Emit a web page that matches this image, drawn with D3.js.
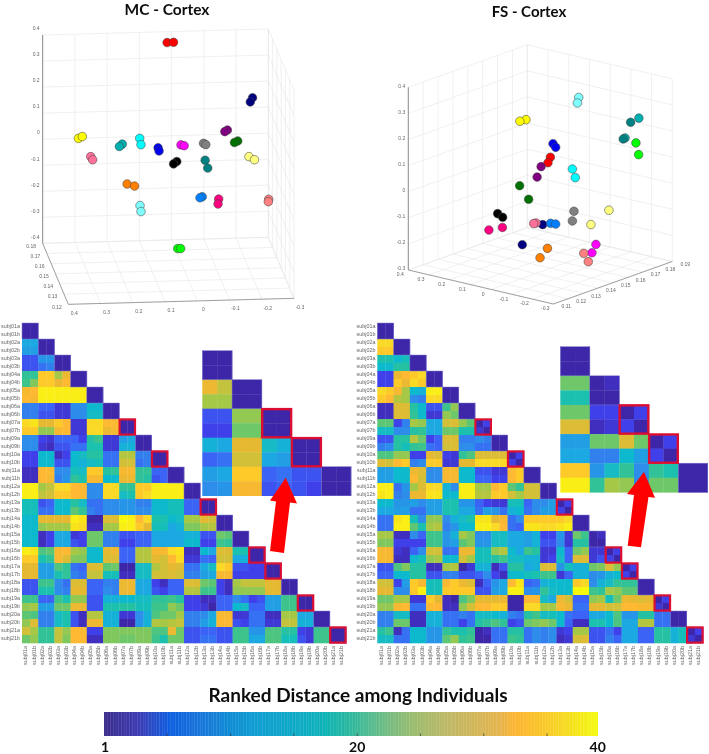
<!DOCTYPE html>
<html><head><meta charset="utf-8">
<script src="https://cdn.jsdelivr.net/npm/d3@7"></script>
<style>html,body{margin:0;padding:0;background:#fff}svg{display:block}</style>
</head><body><svg id="c" width="709" height="754"></svg>
<script>
const subjects=["01","02","03","04","05","06","07","09","10","11","12","13","14","15","16","17","18","19","20","21"];
const rowLabels=subjects.flatMap(s=>["subj"+s+"a","subj"+s+"b"]);
const subjectColors=["#ff0000","#000080","#800080","#007000","#ffff00","#ffff80","#ff7099","#00b0b0","#00ffff","#0000f0","#ff00ff","#808080","#000000","#008080","#ff8000","#80ffff","#0080ff","#ff0080","#ff8080","#00ff00"];
// MC - Cortex, two sessions per subject (same order as subjectColors)
const mcX=[[.014,-.006],[-.251,-.244],[-.173,-.165],[-.205,-.195],[.289,.277],[-.24,-.257],[.251,.245],[.153,.162],[.099,.095],[.042,.039],[-.029,-.039],[-.099,-.106],[-.016,-.006],[-.104,-.112],[.138,.115],[.098,.095],[-.095,-.088],[-.146,-.144],[-.301,-.3],[-.019,-.028]];
const mcZ=[[.371,.372],[.159,.143],[.035,.029],[-.007,-.013],[.003,.01],[-.067,-.079],[-.067,-.079],[-.019,-.028],[.003,-.021],[-.033,-.045],[-.022,-.025],[-.016,-.021],[-.086,-.095],[-.081,-.111],[-.172,-.18],[-.255,-.278],[-.221,-.225],[-.23,-.249],[-.231,-.24],[-.42,-.42]];
// FS - Cortex, view-plane position across the plot (0..1) and apparent height
const fsH=[[.536,.527],[.507,.43],[.501,.486],[.42,.454],[.444,.421],[.757,.689],[.482,.473],[.87,.818],[.619,.63],[.546,.556],[.708,.693],[.625,.619],[.337,.356],[.839,.811],[.525,.497],[.643,.638],[.537,.556],[.304,.355],[.662,.679],[.859,.869]];
const fsZ=[[.132,.111],[-.126,-.203],[.096,.056],[.023,-.029],[.276,.27],[-.071,-.126],[-.12,-.122],[.282,.206],[.087,.054],[.184,.17],[-.202,-.234],[-.075,-.112],[-.084,-.098],[.266,.202],[-.217,-.253],[.361,.34],[-.121,-.124],[-.147,-.137],[-.236,-.268],[.187,.142]];
const xTicks=[.4,.3,.2,.1,0,-.1,-.2,-.3];
const zTicksMC=[.4,.3,.2,.1,0,-.1,-.2,-.3,-.4];
const zTicksFS=[.4,.3,.2,.1,0,-.1,-.2,-.3];
const yTicksMC=[.18,.17,.16,.15,.14,.13,.12];
const yTicksFS=[.11,.12,.13,.14,.15,.16,.17,.18,.19];

const mcRows=[
[2,2],[2,2],
[13,13,2,2],[12,12,2,2],
[6,6,11,11,2,2],[6,6,8,9,2,2],
[20,20,36,36,27,33,2,2],[21,25,36,36,33,35,2,2],
[34,35,39,39,39,39,39,39,2,2],[35,34,39,39,39,39,39,39,2,2],
[9,9,7,7,4,4,10,10,15,15,2,2],[9,9,6,6,4,4,10,10,16,16,2,2],
[37,38,32,32,36,35,4,4,37,37,35,35,2,2],[36,36,26,26,34,35,4,4,37,37,33,34,2,2],
[10,10,5,4,7,7,7,5,19,21,4,4,12,13,2,2],[10,10,4,3,6,6,8,8,18,18,4,4,14,14,2,2],
[5,5,15,15,3,5,15,16,19,19,8,8,28,28,9,9,2,2],[5,5,15,15,6,6,15,14,16,17,8,8,30,30,8,9,2,2],
[3,3,35,35,10,10,17,16,36,36,19,20,34,34,20,20,7,7,2,2],[3,3,35,34,9,11,20,18,34,34,15,15,33,33,20,19,6,7,2,2],
[39,39,27,29,37,37,35,35,10,10,37,37,20,20,36,36,39,39,39,39,2,2],[39,39,29,30,36,36,35,35,10,10,37,37,16,18,36,37,39,39,39,39,2,2],
[17,17,6,7,15,15,19,16,8,8,10,10,11,11,9,9,15,15,17,17,7,7,2,2],[17,17,8,8,15,15,23,20,9,8,10,10,11,11,10,10,15,15,17,17,7,7,2,2],
[15,15,32,32,32,32,39,38,2,2,31,31,40,39,35,37,18,18,15,16,27,27,32,30,2,2],[15,15,26,27,27,27,38,37,3,3,27,27,39,39,36,32,17,17,13,14,25,25,27,28,2,2],
[15,15,3,5,13,13,4,5,24,24,9,9,6,6,7,7,13,13,13,13,14,14,6,6,24,23,2,2],[15,15,3,5,13,13,6,5,24,24,9,9,5,5,7,7,13,13,13,13,15,15,5,5,21,20,2,2],
[39,38,22,23,34,35,27,26,15,15,32,33,7,7,28,28,34,34,37,38,3,3,15,13,31,31,18,18,2,2],[36,36,18,20,34,31,25,25,15,15,31,31,7,7,28,28,32,30,35,37,4,4,8,7,30,30,13,14,2,2],
[32,32,12,12,22,20,8,7,31,31,23,24,2,2,16,16,28,30,32,31,8,8,13,16,37,36,6,6,5,5,2,2],[32,32,12,12,18,20,9,8,29,29,17,17,3,3,16,16,30,30,31,30,9,9,12,13,34,34,5,5,5,5,2,2],
[6,6,21,21,10,8,31,31,7,7,9,9,33,33,13,13,5,3,7,7,31,31,24,23,5,3,27,29,29,29,32,32,2,2],[6,6,18,18,10,9,32,32,7,7,10,9,33,33,13,13,6,5,7,7,28,28,21,21,5,3,26,26,26,26,32,32,2,2],
[21,21,7,7,21,18,26,26,6,6,14,14,15,15,16,16,20,20,21,19,5,5,3,3,7,7,10,8,5,6,12,12,21,21,2,2],[26,27,12,12,24,24,33,33,6,6,18,18,19,19,17,17,21,21,26,24,5,5,4,2,7,7,15,16,7,7,12,12,21,21,2,2],
[23,22,9,9,16,18,6,3,28,28,14,14,4,4,10,14,22,24,24,27,9,9,10,13,34,34,4,4,8,8,3,3,27,27,13,13,2,2],[26,31,9,9,16,18,6,3,33,33,14,14,2,2,11,14,28,27,28,29,9,9,12,14,35,35,6,5,8,8,4,4,29,29,14,14,2,2],
[30,27,20,20,29,26,35,35,5,5,25,25,25,25,25,25,22,22,33,24,6,6,7,7,6,6,21,21,11,11,22,22,19,19,5,4,21,21,2,2],[24,26,20,20,29,25,35,35,3,3,25,25,24,24,25,25,21,18,24,24,6,6,8,8,6,6,21,21,13,13,22,22,17,17,6,4,21,21,2,2]
];
const fsRows=[
[2,2],[2,2],
[37,37,2,2],[36,36,2,2],
[18,18,15,17,2,2],[15,15,19,19,2,2],
[5,5,33,35,36,37,2,2],[5,5,36,33,37,36,2,2],
[37,36,34,27,15,14,39,39,2,2],[36,35,28,27,10,9,37,37,2,2],
[3,3,31,31,19,15,6,6,21,26,2,2],[3,3,31,31,20,15,4,4,26,24,2,2],
[23,23,5,9,27,26,13,13,30,31,26,23,2,5],[16,16,10,10,19,20,13,13,24,24,18,18,4,2],
[6,6,19,19,28,24,5,7,31,31,9,9,10,9,2,2],[9,10,19,17,20,21,8,7,30,31,10,10,8,8,2,2],
[22,22,26,26,5,5,32,31,5,4,20,22,31,31,31,31,2,5],[31,30,35,36,9,10,36,36,4,4,32,32,37,37,37,37,5,2],
[12,12,15,15,33,31,10,10,34,34,15,15,6,6,4,4,35,36,2,2],[12,12,15,15,35,30,10,10,34,34,15,15,7,7,5,5,35,36,2,2],
[39,39,8,11,27,31,37,37,14,10,39,39,27,27,35,36,23,20,30,30,2,2],[38,39,9,10,33,33,38,38,15,15,39,39,28,28,36,36,30,27,30,30,2,2],
[15,15,11,11,12,10,12,12,18,18,11,11,7,5,4,4,17,17,7,10,10,12,2,5],[13,13,12,12,8,8,12,12,18,18,13,13,8,12,11,8,14,15,8,10,12,12,5,2],
[8,8,38,39,17,10,26,26,10,14,16,18,38,38,32,34,8,10,36,36,36,36,36,37,2,2],[8,8,39,39,23,18,27,28,9,11,15,15,39,39,37,35,8,7,38,38,37,37,38,39,2,2],
[27,27,3,3,10,7,21,21,11,14,27,25,10,10,16,16,13,13,12,14,5,5,11,4,24,21,2,3],[25,25,5,5,5,5,21,21,11,12,23,25,11,11,16,16,13,13,12,14,6,6,10,4,19,19,2,2],
[34,34,4,3,7,10,30,30,8,8,33,33,17,17,26,28,15,13,21,19,4,4,15,7,24,26,4,4,2,5],[34,34,3,3,15,17,26,27,15,15,30,27,17,17,19,21,16,16,14,14,4,5,16,7,31,31,4,6,5,2],
[6,6,22,25,19,19,3,3,27,28,2,4,14,14,3,6,19,19,13,14,31,31,11,17,14,14,24,25,31,26,2,5],[7,7,15,15,19,19,6,6,9,9,6,6,7,10,5,3,15,15,17,18,21,21,4,7,14,14,10,11,14,15,5,2],
[30,30,5,12,36,34,17,17,35,36,33,31,3,7,11,13,35,38,7,8,14,15,15,15,36,37,10,14,16,20,20,20,2,2],[32,32,10,10,36,39,17,17,36,36,36,36,6,6,12,13,39,39,10,11,20,16,15,15,40,40,21,20,27,26,23,23,2,2],
[24,24,27,27,4,4,36,32,3,2,22,25,32,32,32,33,2,2,35,35,16,13,33,30,7,7,26,27,17,24,33,32,31,32,2,5],[26,26,34,35,8,8,35,35,3,3,26,30,35,35,36,36,2,2,37,37,27,27,34,33,8,8,32,32,30,30,35,35,34,34,4,2],
[9,9,16,16,3,3,14,14,8,8,9,8,16,16,15,14,9,8,19,21,16,17,15,8,7,7,13,13,15,22,11,11,19,19,8,8,2,2],[9,9,24,24,3,3,14,14,8,8,5,8,19,20,22,20,5,6,24,25,26,24,15,7,3,3,18,18,15,22,13,13,28,28,8,8,2,2],
[19,21,3,8,15,15,11,11,20,18,18,20,2,3,8,8,19,19,8,10,9,10,4,5,27,27,6,6,8,5,13,13,7,7,19,19,14,17,2,5],[16,16,8,8,15,15,11,11,23,26,20,21,2,2,8,8,21,20,8,10,9,10,3,4,30,31,6,6,9,7,13,13,7,7,19,19,14,17,4,2]
];
const mcInsetRows=[
[2,2],[2,2],
[33,29,2,2],[27,27,2,2],
[6,6,26,26,2,2],[5,5,24,24,2,2],
[14,13,32,32,16,14,2,2],[7,8,30,30,13,12,2,2],
[12,13,36,36,7,8,6,6,2,2],[10,11,34,34,6,7,6,5,2,2]
];
const fsInsetRows=[
[2,2],[2,2],
[24,24,2,3],[18,18,2,2],
[24,24,5,5,2,5],[31,31,3,4,5,2],
[12,12,24,24,31,24,2,5],[13,13,9,9,15,12,5,2],
[36,36,11,16,20,10,20,18,2,2],[39,39,20,27,26,10,24,24,2,2]
];
const pairedSubjects=[6,8,11,14,15,17,19];
const insetPaired=[2,3];
const heatStops=[1,2,5,7,10,13,15,18,21,24,27,30,32,35,37,40];
const heatColors=["#3b23a0","#3e26a8","#4040eb","#3a64f5","#2d8ceb","#1ea8e1","#0fb9cd","#1ec0af","#3cc38c","#6ec869","#a5c846","#d2c037","#e6b930","#ffb930","#fada26","#f8f810"];
const barStops=[1,3.73,6.07,8.8,12.7,16.6,18.55,20.5,22.45,25.18,28.3,32.2,33.37,36.1,40];
const barColors=["#3b2d8c","#3c3cb4","#0f5fe0","#1878d8","#0a9cd2","#0cacc4","#10b4b4","#30b89c","#60bc8c","#98bc70","#c0b864","#e4b44c","#fcb430","#f8cc28","#f4fa10"];
const barMinorTicks=[6,11,16,21,26,31,36];
const barLabels=["1","20","40"];
const barLabelAt=[1,21,40];

const svg=d3.select("#c");
const defs=svg.append("defs");
defs.append("filter").attr("id","soft").attr("x","-2%").attr("y","-2%").attr("width","104%").attr("height","104%")
  .append("feGaussianBlur").attr("stdDeviation",0.45);
const root=svg.append("g").attr("filter","url(#soft)");
const heat=d3.scaleLinear().domain(heatStops).range(heatColors).clamp(true);
const fmt=d=>String(+d.toFixed(2));

function gridLine(g,a,b,c,w){g.append("line").attr("x1",a[0]).attr("y1",a[1]).attr("x2",b[0]).attr("y2",b[1]).attr("stroke",c||"#e6e6e6").attr("stroke-width",w||.6);}
function tickText(g,p,t,anchor){g.append("text").attr("x",p[0]).attr("y",p[1]).attr("text-anchor",anchor||"middle").attr("dominant-baseline","middle")
  .attr("font-family","Liberation Sans").attr("font-size",5).attr("fill","#666").text(t);}
function dots(g,pts){
  g.selectAll("circle").data(pts).join("circle").attr("cx",d=>d[0]).attr("cy",d=>d[1]).attr("r",4.3)
   .attr("fill",d=>d[2]).attr("stroke","#444").attr("stroke-width",.55);
}
function pointsOf(A,B,sa,sb){const o=[];A.forEach((p,i)=>p.forEach((v,k)=>o.push([sa(v),sb(B[i][k]),subjectColors[i]])));return o;}

/* MC 3-D box */
(function(){
  const g=root.append("g");
  const U=d3.scaleLinear().domain([.4,-.3]).range([0,1]);
  const D=d3.scaleLinear().domain([.18,.12]).range([0,1]);
  const W=d3.scaleLinear().domain([-.4,.4]).range([0,1]);
  const P=(x,y,z)=>{const u=U(x),d=D(y),w=W(z);return[42.67+u*225.66+d*25.66,243.33-u*6+d*61-w*208.33];};
  xTicks.forEach(x=>{gridLine(g,P(x,.18,-.4),P(x,.18,.4));gridLine(g,P(x,.18,-.4),P(x,.12,-.4));});
  zTicksMC.forEach(z=>{gridLine(g,P(.4,.18,z),P(-.3,.18,z));gridLine(g,P(-.3,.18,z),P(-.3,.12,z));});
  yTicksMC.forEach(y=>{gridLine(g,P(.4,y,-.4),P(-.3,y,-.4));gridLine(g,P(-.3,y,-.4),P(-.3,y,.4));});
  gridLine(g,P(.4,.18,-.4),P(.4,.18,.4),"#8c8c8c",1);
  gridLine(g,P(.4,.18,-.4),P(.4,.12,-.4),"#8c8c8c",.8);
  gridLine(g,P(.4,.12,-.4),P(-.3,.12,-.4),"#8c8c8c",.8);
  zTicksMC.forEach(z=>{const p=P(.4,.18,z);tickText(g,[p[0]-3,p[1]-6],fmt(z),"end");});
  xTicks.forEach(x=>{const p=P(x,.12,-.4);tickText(g,[p[0]+6,p[1]+9],fmt(x));});
  yTicksMC.forEach(y=>{const p=P(.4,y,-.4);tickText(g,[p[0]-11.5,p[1]+3],fmt(y));});
  const sx=d3.scaleLinear().domain([.4,-.3]).range([42.67,268.33]);
  const sz=d3.scaleLinear().domain([-.4,.4]).range([243.33,35]);
  dots(g.append("g"),pointsOf(mcX,mcZ,sx,sz));
})();

/* FS 3-D box */
(function(){
  const g=root.append("g");
  const U=d3.scaleLinear().domain([.4,-.3]).range([0,1]);
  const V=d3.scaleLinear().domain([.11,.19]).range([0,1]);
  const W=d3.scaleLinear().domain([-.3,.4]).range([0,1]);
  const P=(x,y,z)=>{const u=U(x),v=V(y),w=W(z);return[408.3+u*145+v*119,270+u*34-v*42.5-w*182.7];};
  xTicks.forEach(x=>{gridLine(g,P(x,.19,-.3),P(x,.19,.4));gridLine(g,P(x,.11,-.3),P(x,.19,-.3));});
  yTicksFS.forEach(y=>{gridLine(g,P(.4,y,-.3),P(.4,y,.4));gridLine(g,P(.4,y,-.3),P(-.3,y,-.3));});
  zTicksFS.forEach(z=>{gridLine(g,P(.4,.11,z),P(.4,.19,z));gridLine(g,P(.4,.19,z),P(-.3,.19,z));});
  gridLine(g,P(.4,.11,-.3),P(.4,.11,.4),"#8c8c8c",1);
  gridLine(g,P(.4,.11,-.3),P(-.3,.11,-.3),"#8c8c8c",.8);
  gridLine(g,P(-.3,.11,-.3),P(-.3,.19,-.3),"#8c8c8c",.8);
  zTicksFS.forEach(z=>{const p=P(.4,.11,z);tickText(g,[p[0]-3,p[1]-1],fmt(z),"end");});
  xTicks.forEach(x=>{const p=P(x,.11,-.3);tickText(g,[p[0]-8,p[1]+5],fmt(x));});
  yTicksFS.forEach(y=>{const p=P(-.3,y,-.3);tickText(g,[p[0]+13,p[1]+3],fmt(y));});
  const sh=d3.scaleLinear().domain([0,1]).range([408.33,673.33]);
  const sz=d3.scaleLinear().domain([-.3,.4]).range([270,87.3]);
  dots(g.append("g"),pointsOf(fsH,fsZ,sh,sz));
})();

/* triangular matrices */
function matrix(rows,x0,x1,y0,y1,paired,labelled,labelLeft,redWidth){
  const g=root.append("g");
  const n=rows.length,cx=d3.scaleBand().domain(d3.range(n)).range([x0,x1]),cy=d3.scaleBand().domain(d3.range(n)).range([y0,y1]);
  rows.forEach((r,ri)=>{
    g.append("g").selectAll("rect").data(r).join("rect")
     .attr("x",(d,c)=>cx(c)).attr("y",cy(ri)).attr("width",cx.bandwidth()+.3).attr("height",cy.bandwidth()+.3)
     .attr("fill",d=>heat(d));
  });
  const bw=cx.bandwidth()*2,bh=cy.bandwidth()*2;
  d3.range(n/2).forEach(i=>{
    if(!paired.includes(i))g.append("rect").attr("x",cx(i*2)).attr("y",cy(i*2)).attr("width",bw).attr("height",bh).attr("fill","none").attr("stroke","#7f7fd0").attr("stroke-width",.5);
  });
  paired.forEach(i=>{
    g.append("rect").attr("x",cx(i*2)+.4).attr("y",cy(i*2)+.4).attr("width",bw-.8).attr("height",bh-.8).attr("fill","none").attr("stroke","#dc1030").attr("stroke-width",redWidth);
  });
  if(labelled){
    rowLabels.forEach((t,i)=>{
      g.append("text").attr("x",labelLeft).attr("y",cy(i)+cy.bandwidth()/2).attr("text-anchor","end").attr("dominant-baseline","middle")
       .attr("font-family","Liberation Sans").attr("font-size",5.4).attr("fill","#666").text(t);
      g.append("text").attr("transform",`translate(${cx(i)+cx.bandwidth()/2},${y1+3}) rotate(-90)`).attr("text-anchor","end").attr("dominant-baseline","middle")
       .attr("font-family","Liberation Sans").attr("font-size",5.4).attr("fill","#666").text(t);
    });
  }
}
matrix(mcRows,22,346,323,643,pairedSubjects,true,20,2.2);
matrix(fsRows,377.3,703,323,643,pairedSubjects,true,375.5,2.2);
matrix(mcInsetRows,202.3,351,350.7,495.7,insetPaired,false,0,2.4);
matrix(fsInsetRows,560.3,707.7,346.7,492.3,insetPaired,false,0,2.4);

/* arrows */
root.append("polygon").attr("fill","#ff0000").attr("points","285.7,477.7 297,503.5 290,502.5 284,553 270,551 276,501.5 270,500.5");
root.append("polygon").attr("fill","#ff0000").attr("points","644,472 655,497.7 648.5,497 641,547.3 627.7,545.7 634,495 627,494");

/* titles */
function title(t,x,y,size){root.append("text").attr("x",x).attr("y",y).attr("text-anchor","middle").attr("font-family","Lato").attr("font-weight",700).attr("font-size",size).attr("fill","#111").text(t);}
title("MC - Cortex",167,14.8,15.5);
title("FS - Cortex",529,16.5,15);
title("Ranked Distance among Individuals",358,702,19);

/* colour bar */
const bar=d3.scaleLinear().domain([1,40]).range([104,597.7]);
const barColor=d3.scaleLinear().domain(barStops).range(barColors);
const bg=root.append("g");
bg.selectAll("rect").data(d3.range(1,40,.125)).join("rect")
  .attr("x",d=>bar(d)).attr("y",712).attr("width",d=>bar(d+.125)-bar(d)+.3).attr("height",24).attr("fill",d=>barColor(d));
bg.selectAll("line").data(barMinorTicks).join("line").attr("x1",d=>bar(d)).attr("x2",d=>bar(d)).attr("y1",733.5).attr("y2",736).attr("stroke","#333").attr("stroke-width",.7);
bg.selectAll("text").data(barLabels).join("text").attr("x",(d,i)=>bar(barLabelAt[i])+(i==0?1:0)).attr("y",752).attr("text-anchor","middle")
  .attr("font-family","Lato").attr("font-weight",700).attr("font-size",14).attr("fill","#111").text(d=>d);
</script></body></html>
